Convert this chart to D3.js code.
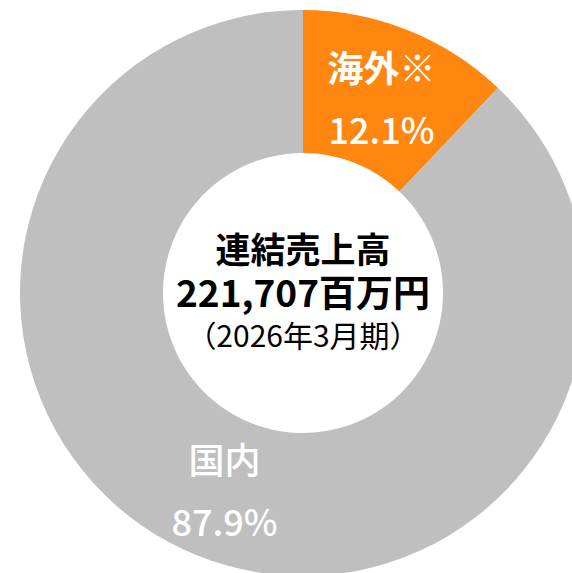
<!DOCTYPE html>
<head>
  <meta charset="utf-8">
  <script src="https://d3js.org/d3.v7.min.js"></script>
  <style>
  body { margin: 0; background: #fff; }
  text { font-family: "Noto Sans CJK JP", "Noto Sans", sans-serif; }
  </style>
</head>
<body>
<svg width="572" height="573"></svg>

<script type="text/javascript">
// Data
var categories = ["海外※", "国内"];
var shares = [12.1, 87.9];
var shareLabels = ["12.1%", "87.9%"];
var colors = ["#ff870f", "#bfbfbf"];
var centerLines = ["連結売上高", "221,707百万円", "（2026年3月期）"];

var svg = d3.select("svg");
var cx = 303, cy = 293;
var outerR = 283, innerR = 140;

var g = svg.append("g").attr("transform", "translate(" + cx + "," + cy + ")");

var pie = d3.pie().sort(null).value(function(d) { return d; });
var arc = d3.arc().innerRadius(innerR).outerRadius(outerR);

var slices = g.selectAll("g.slice")
    .data(pie(shares))
    .enter().append("g")
    .attr("class", "slice");

slices.append("path")
    .attr("d", arc)
    .attr("fill", function(d, i) { return colors[i]; });

// Labels at the centroid of each slice: name on top, share below
slices.each(function(d, i) {
  var c = arc.centroid(d);
  var s = d3.select(this);
  s.append("text")
      .attr("x", c[0])
      .attr("y", c[1] - 31)
      .attr("text-anchor", "middle")
      .attr("dominant-baseline", "central")
      .attr("fill", "#fff")
      .attr("font-size", 36)
      .attr("font-weight", i === 0 ? 700 : 500)
      .text(categories[i]);
  s.append("text")
      .attr("x", c[0])
      .attr("y", c[1] + 31)
      .attr("text-anchor", "middle")
      .attr("dominant-baseline", "central")
      .attr("fill", "#fff")
      .attr("font-size", 36)
      .attr("font-weight", 500)
      .text(shareLabels[i]);
});

// Centre text
var centerY = [-46, -2, 41];
var centerSize = [35, 37, 30];
var centerWeight = [700, 700, 400];
centerLines.forEach(function(t, i) {
  g.append("text")
      .attr("x", 0)
      .attr("y", centerY[i])
      .attr("text-anchor", "middle")
      .attr("dominant-baseline", "central")
      .attr("fill", "#000")
      .attr("font-size", centerSize[i])
      .attr("font-weight", centerWeight[i])
      .text(t);
});
</script>

</body>
</html>
